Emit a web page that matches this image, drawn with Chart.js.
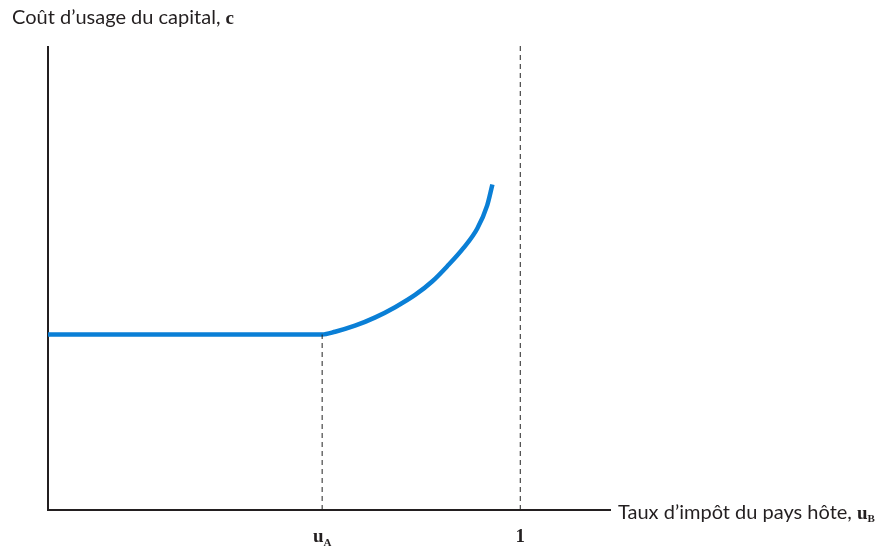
<!DOCTYPE html>
<html>
<head>
<meta charset="utf-8">
<script src="https://cdn.jsdelivr.net/npm/chart.js@4"></script>
<style>
  html, body { margin: 0; padding: 0; background: #fff; }
  #wrap { width: 888px; height: 552px; }
</style>
</head>
<body>
<div id="wrap"><canvas id="chart" width="888" height="552"></canvas></div>
<script>
// --- data ---
const costX = [0, 0.5805, 0.608, 0.650, 0.693, 0.735, 0.778, 0.814, 0.845, 0.879, 0.909, 0.930, 0.941];
const costY = [37.9, 37.9, 38.5, 39.8, 41.6, 43.8, 46.5, 49.4, 52.6, 56.5, 60.8, 65.8, 70.3];

const tickPos = [0.5805, 1];
const tickMain = ['u', '1'];
const tickSub = ['A', ''];
const guideTop = [37.9, 100.5];   // height each dashed guide reaches

const yTitle = 'Coût d\u2019usage du capital, ';
const yTitleVar = 'c';
const xTitle = 'Taux d\u2019impôt du pays hôte, ';
const xTitleVar = 'u';
const xTitleSub = 'B';

const BLUE = '#0a7fd6';
const SANS = 'Lato, "Open Sans", sans-serif';
const SERIF = '"Liberation Serif", "DejaVu Serif", serif';

const toPts = (xs, ys) => xs.map((x, i) => ({ x, y: ys[i] }));

const guides = tickPos.map((x, i) => ({
    data: [{ x, y: 0 }, { x, y: guideTop[i] }],
    borderColor: '#222',
    borderWidth: 1,
    borderDash: [5, 4],
    pointRadius: 0,
    clip: false
}));

// text labels drawn at scale positions
const labelsPlugin = {
    id: 'labels',
    afterDraw(chart) {
        const { ctx, scales: { x }, chartArea } = chart;
        ctx.save();
        ctx.fillStyle = '#231f20';
        ctx.textBaseline = 'alphabetic';

        // y title, top left
        ctx.font = '20px ' + SANS;
        ctx.fillText(yTitle, 12, 24);
        let w = ctx.measureText(yTitle).width;
        ctx.font = 'bold 19px ' + SERIF;
        ctx.fillText(yTitleVar, 12 + w, 24);

        // x title, right of axis end
        const bx = chartArea.right + 8;
        const by = chartArea.bottom + 9;
        ctx.font = '20px ' + SANS;
        ctx.fillText(xTitle, bx, by);
        w = ctx.measureText(xTitle).width;
        ctx.font = 'bold 19px ' + SERIF;
        ctx.fillText(xTitleVar, bx + w, by);
        const w2 = ctx.measureText(xTitleVar).width;
        ctx.font = 'bold 11px ' + SERIF;
        ctx.fillText(xTitleSub, bx + w + w2, by + 3);

        // tick labels under the axis
        tickPos.forEach((v, i) => {
            const px = x.getPixelForValue(v);
            ctx.font = 'bold 19px ' + SERIF;
            const mw = ctx.measureText(tickMain[i]).width;
            ctx.font = 'bold 11px ' + SERIF;
            const sw = tickSub[i] ? ctx.measureText(tickSub[i]).width : 0;
            const start = px - (mw + sw) / 2;
            ctx.font = 'bold 19px ' + SERIF;
            ctx.fillText(tickMain[i], start, chartArea.bottom + 32);
            if (tickSub[i]) {
                ctx.font = 'bold 11px ' + SERIF;
                ctx.fillText(tickSub[i], start + mw, chartArea.bottom + 36);
            }
        });
        ctx.restore();
    }
};

new Chart(document.getElementById('chart'), {
    type: 'line',
    data: {
        datasets: [
            ...guides,
            {
                data: toPts(costX, costY),
                borderColor: BLUE,
                borderWidth: 4.5,
                pointRadius: 0,
                cubicInterpolationMode: 'monotone',
                borderCapStyle: 'butt',
                clip: false
            }
        ]
    },
    options: {
        responsive: false,
        animation: false,
        layout: { padding: { left: 40, top: 47, right: 278, bottom: 34 } },
        scales: {
            x: {
                type: 'linear', min: 0, max: 1.19,
                grid: { display: false },
                ticks: { display: false },
                border: { display: true, color: '#231f20', width: 2 }
            },
            y: {
                type: 'linear', min: 0, max: 100,
                grid: { display: false },
                ticks: { display: false },
                border: { display: true, color: '#231f20', width: 2 }
            }
        },
        plugins: {
            legend: { display: false },
            tooltip: { enabled: false }
        }
    },
    plugins: [labelsPlugin]
});
</script>
</body>
</html>
